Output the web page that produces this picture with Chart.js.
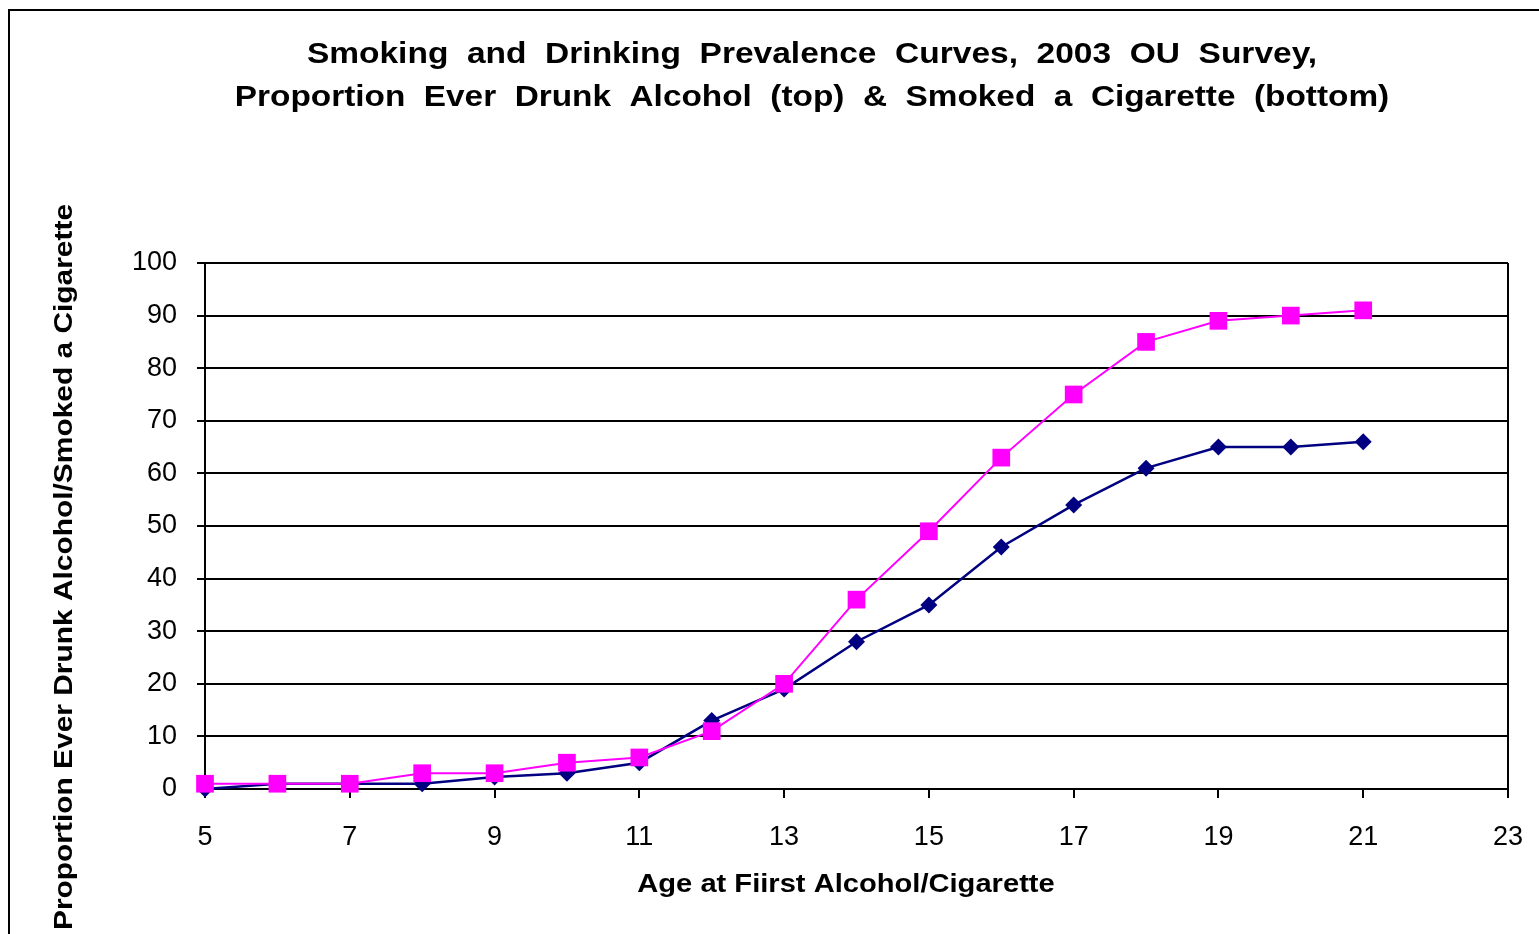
<!DOCTYPE html>
<html>
<head>
<meta charset="utf-8">
<script src="https://cdn.jsdelivr.net/npm/chart.js@4/dist/chart.umd.min.js"></script>
<style>
  html, body { margin: 0; padding: 0; background: #ffffff; overflow: hidden; }
  #wrap { position: relative; width: 1539px; height: 934px; }
</style>
</head>
<body>
<div id="wrap"><canvas id="chart" width="1539" height="934"></canvas></div>
<script>
// Age at first drink / cigarette
const ages = [5, 6, 7, 8, 9, 10, 11, 12, 13, 14, 15, 16, 17, 18, 19, 20, 21];
// Cumulative % who have ever drunk alcohol
const alcohol = [1, 1, 1, 3, 3, 5, 6, 11, 20, 36, 49, 63, 75, 85, 89, 90, 91];
// Cumulative % who have ever smoked a cigarette
const cigarette = [0, 1, 1, 1, 2.3, 3, 5, 13, 19, 28, 35, 46, 54, 61, 65, 65, 66];

const titleLines = [
  'Smoking  and  Drinking  Prevalence  Curves,  2003  OU  Survey,',
  'Proportion  Ever  Drunk  Alcohol  (top)  &  Smoked  a  Cigarette  (bottom)'
];
const xTitle = 'Age at Fiirst Alcohol/Cigarette';
const yTitle = 'Proportion Ever Drunk Alcohol/Smoked a Cigarette';

const FONT = '"Liberation Sans", Arial, sans-serif';

const toPoints = (vals) => ages.map((a, i) => ({ x: a, y: vals[i] }));

// Draws text widened along its own direction
function wideText(ctx, text, x, y, stretch) {
  ctx.save();
  ctx.translate(x, y);
  ctx.scale(stretch, 1);
  ctx.fillText(text, 0, 0);
  ctx.restore();
}

// Outer frame, plot-area box and the free-standing titles
const decorations = {
  id: 'decorations',
  beforeDraw(chart) {
    const ctx = chart.ctx;
    ctx.save();
    ctx.fillStyle = '#ffffff';
    ctx.fillRect(0, 0, chart.width, chart.height);
    ctx.strokeStyle = '#000000';
    ctx.lineWidth = 2;
    ctx.strokeRect(9, 10, 1600, 1000);
    ctx.restore();
  },
  beforeDatasetsDraw(chart) {
    const ctx = chart.ctx;
    const a = chart.chartArea;
    ctx.save();
    ctx.strokeStyle = '#000000';
    ctx.lineWidth = 2;
    ctx.beginPath();
    ctx.moveTo(a.right, a.top);
    ctx.lineTo(a.right, a.bottom);
    ctx.stroke();
    ctx.restore();
  },
  afterDraw(chart) {
    const ctx = chart.ctx;
    ctx.save();
    ctx.fillStyle = '#000000';
    ctx.textAlign = 'center';
    ctx.textBaseline = 'alphabetic';
    ctx.font = 'bold 29px ' + FONT;
    wideText(ctx, titleLines[0], 812, 63, 1.155);
    wideText(ctx, titleLines[1], 812, 106, 1.15);

    ctx.font = 'bold 26px ' + FONT;
    wideText(ctx, xTitle, 846, 892, 1.12);

    ctx.translate(72, 567);
    ctx.rotate(-Math.PI / 2);
    wideText(ctx, yTitle, 0, 0, 1.15);
    ctx.restore();
  }
};

new Chart(document.getElementById('chart'), {
  type: 'line',
  data: {
    datasets: [
      {
        label: 'Ever drunk alcohol',
        data: toPoints(alcohol),
        borderColor: '#FF00FF',
        backgroundColor: '#FF00FF',
        borderWidth: 2,
        pointStyle: 'rect',
        pointRadius: 12.5,
        pointHoverRadius: 12.5,
        pointBorderWidth: 0,
        tension: 0,
        clip: false
      },
      {
        label: 'Ever smoked a cigarette',
        data: toPoints(cigarette),
        borderColor: '#000080',
        backgroundColor: '#000080',
        borderWidth: 2.5,
        pointStyle: 'rectRot',
        pointRadius: 8.5,
        pointHoverRadius: 8.5,
        pointBorderWidth: 0,
        tension: 0,
        clip: false
      }
    ]
  },
  options: {
    responsive: false,
    animation: false,
    events: [],
    layout: { padding: { top: 263, right: 31, bottom: 0, left: 0 } },
    plugins: {
      legend: { display: false },
      title: { display: false },
      tooltip: { enabled: false }
    },
    scales: {
      x: {
        type: 'linear',
        min: 5,
        max: 23,
        afterFit(scale) {
          scale.height = 145;
          scale.paddingLeft = 0;
          scale.paddingRight = 0;
        },
        ticks: {
          stepSize: 2,
          color: '#000000',
          padding: 23,
          maxRotation: 0,
          font: { family: FONT, size: 27 }
        },
        grid: {
          drawOnChartArea: false,
          drawTicks: true,
          tickLength: 9,
          color: '#000000',
          lineWidth: 2
        },
        border: { display: true, color: '#000000', width: 2 }
      },
      y: {
        min: 0,
        max: 100,
        afterFit(scale) {
          scale.width = 205;
          scale.paddingTop = 0;
          scale.paddingBottom = 0;
        },
        ticks: {
          stepSize: 10,
          color: '#000000',
          padding: 20,
          font: { family: FONT, size: 27 }
        },
        grid: {
          drawOnChartArea: true,
          drawTicks: true,
          tickLength: 8,
          color: '#000000',
          lineWidth: 2
        },
        border: { display: true, color: '#000000', width: 2 }
      }
    }
  },
  plugins: [decorations]
});
</script>
</body>
</html>
